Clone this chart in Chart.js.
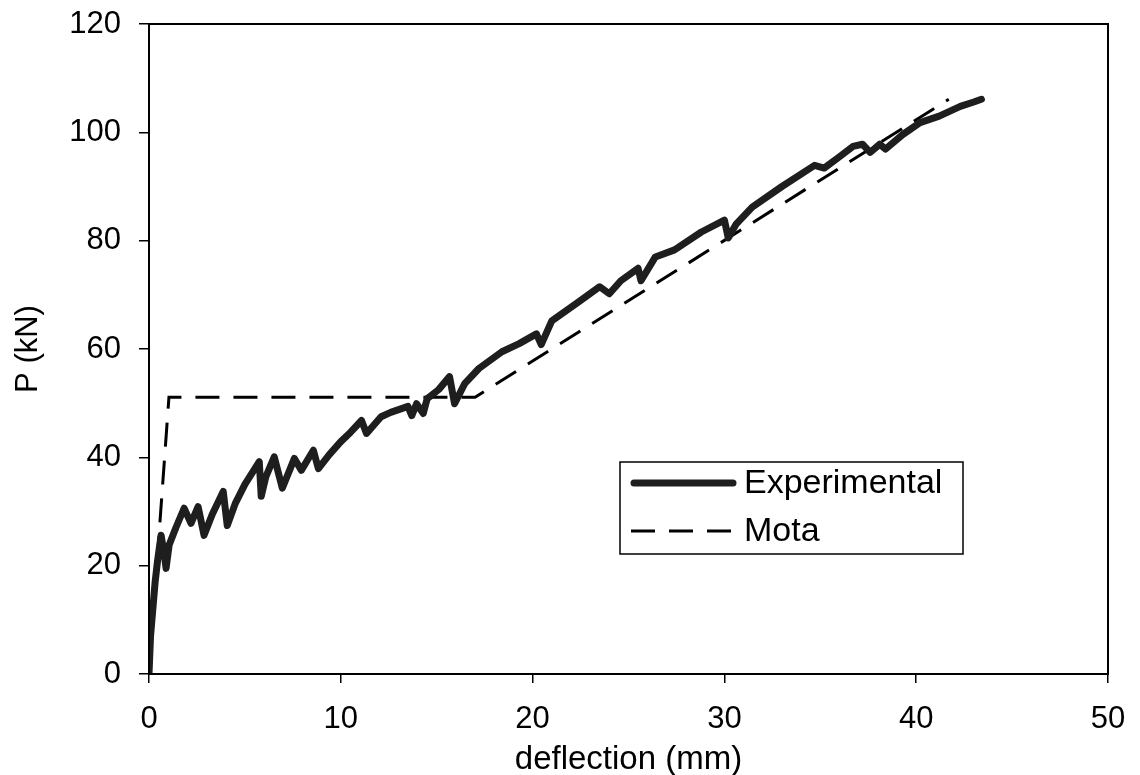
<!DOCTYPE html>
<html>
<head>
<meta charset="utf-8">
<title>P vs deflection</title>
<script src="https://cdn.jsdelivr.net/npm/chart.js@4"></script>
<style>
  html, body { margin: 0; padding: 0; background: #fff; }
  #wrap { width: 1140px; height: 775px; }
</style>
</head>
<body>
<div id="wrap"><canvas id="chart" width="1140" height="775"></canvas></div>
<script>
// measured load-deflection curve
var expDeflection = [0, 0.08, 0.2, 0.32, 0.45, 0.63, 0.8, 0.89, 1.05, 1.4, 1.83, 2.19, 2.56, 2.87, 3.3, 3.87, 4.08, 4.5, 5.0,
  5.75, 5.85, 6.1, 6.53, 6.95, 7.58, 7.94, 8.57, 8.83, 9.4, 10.0, 10.5, 11.08, 11.34, 12.1, 12.6, 13.17, 13.5, 13.7,
  13.95, 14.3, 14.5, 15.1, 15.67, 15.93, 16.46, 17.2, 18.4, 19.3, 20.2, 20.45, 21.0, 22.4, 23.5, 24.0, 24.6, 25.5,
  25.65, 26.4, 27.4, 28.8, 30.0, 30.2, 30.6, 31.45, 33.0, 34.7, 35.2, 36.0, 36.7, 37.2, 37.6, 38.1, 38.4, 39.3,
  40.2, 41.2, 42.3, 43.0, 43.4];
var expLoad = [0, 7, 12, 17, 21, 25.6, 22, 19.5, 23.8, 27, 30.6, 27.8, 30.9, 25.6, 29.5, 33.7, 27.4, 31.5, 35,
  39.2, 32.8, 36.5, 40.1, 34.3, 39.8, 37.6, 41.3, 37.9, 40.5, 42.9, 44.6, 46.8, 44.4, 47.5, 48.3, 49, 49.4, 47.7,
  49.9, 48.1, 50.8, 52.5, 54.9, 49.9, 53.6, 56.4, 59.5, 61, 62.8, 60.8, 65.2, 68.7, 71.5, 70.2, 72.6, 74.9,
  72.6, 77, 78.3, 81.6, 83.8, 80.5, 83, 86.2, 90, 93.9, 93.4, 95.5, 97.4, 97.8, 96.3, 97.8, 96.9, 99.6,
  101.8, 103, 104.8, 105.6, 106.1];

// Mota model (trilinear)
var motaDeflection = [0, 1.04, 17.0, 41.7];
var motaLoad = [0, 51.1, 51.1, 106.1];

var xTicks = [0, 10, 20, 30, 40, 50];
var yTicks = [0, 20, 40, 60, 80, 100, 120];

var seriesNames = ["Experimental", "Mota"];

function toPoints(xs, ys) {
  return xs.map(function (x, i) { return { x: x, y: ys[i] }; });
}

var FONT = "'Liberation Sans', Arial, sans-serif";

// box around the plot area plus the boxed legend
var framePlugin = {
  id: "frame",
  afterDraw: function (chart) {
    var c = chart.ctx, a = chart.chartArea;
    c.save();
    c.strokeStyle = "#000";
    c.lineWidth = 2;
    c.strokeRect(a.left, a.top, a.right - a.left, a.bottom - a.top);

    // legend
    var lx = 620, ly = 462, lw = 343, lh = 92;
    c.fillStyle = "#fff";
    c.fillRect(lx, ly, lw, lh);
    c.lineWidth = 1.5;
    c.strokeRect(lx, ly, lw, lh);

    var rows = [483, 531];
    chart.data.datasets.forEach(function (ds, i) {
      var y = rows[i];
      c.beginPath();
      c.setLineDash(ds.borderDash || []);
      c.lineWidth = ds.borderWidth;
      c.strokeStyle = ds.borderColor;
      c.lineCap = ds.borderDash ? "butt" : "round";
      c.moveTo(ds.borderDash ? 631 : 634, y);
      c.lineTo(ds.borderDash ? 736 : 733, y);
      c.stroke();
      c.setLineDash([]);
      c.fillStyle = "#000";
      c.font = "34px " + FONT;
      c.textBaseline = "middle";
      c.textAlign = "left";
      c.fillText(ds.label, 744, y + 1);
    });
    c.restore();
  }
};

new Chart(document.getElementById("chart"), {
  type: "scatter",
  data: {
    datasets: [
      {
        label: seriesNames[0],
        data: toPoints(expDeflection, expLoad),
        showLine: true,
        borderColor: "#1e1e1e",
        borderWidth: 7,
        borderJoinStyle: "round",
        borderCapStyle: "round",
        pointRadius: 0,
        tension: 0
      },
      {
        label: seriesNames[1],
        data: toPoints(motaDeflection, motaLoad),
        showLine: true,
        borderColor: "#000",
        borderWidth: 3,
        borderDash: [24, 14],
        pointRadius: 0,
        tension: 0
      }
    ]
  },
  options: {
    responsive: false,
    animation: false,
    layout: { padding: { left: 0, right: 32, top: 24, bottom: 0 } },
    plugins: {
      legend: { display: false },
      tooltip: { enabled: false }
    },
    scales: {
      x: {
        type: "linear",
        min: 0,
        max: 50,
        afterBuildTicks: function (s) { s.ticks = xTicks.map(function (v) { return { value: v }; }); },
        afterFit: function (s) { s.height = 101; s.paddingLeft = 0; s.paddingRight = 0; },
        border: { display: true, color: "#000", width: 2 },
        grid: { drawOnChartArea: false, drawTicks: true, tickLength: 9, color: "#000", lineWidth: 1.5 },
        ticks: { color: "#000", font: { family: FONT, size: 31 }, padding: 18, maxRotation: 0 },
        title: {
          display: true,
          text: "deflection (mm)",
          color: "#000",
          font: { family: FONT, size: 33, lineHeight: 0.9 },
          padding: { top: 0, bottom: 0 }
        }
      },
      y: {
        type: "linear",
        min: 0,
        max: 120,
        afterBuildTicks: function (s) { s.ticks = yTicks.map(function (v) { return { value: v }; }); },
        afterFit: function (s) { s.width = 149; s.paddingTop = 0; s.paddingBottom = 0; },
        border: { display: true, color: "#000", width: 2 },
        grid: { drawOnChartArea: false, drawTicks: true, tickLength: 10, color: "#000", lineWidth: 1.5 },
        ticks: { color: "#000", font: { family: FONT, size: 31 }, padding: 18 },
        title: {
          display: true,
          text: "P (kN)",
          color: "#000",
          font: { family: FONT, size: 31, lineHeight: 1.2 },
          padding: { top: 10, bottom: 0 }
        }
      }
    }
  },
  plugins: [framePlugin]
});
</script>
</body>
</html>
